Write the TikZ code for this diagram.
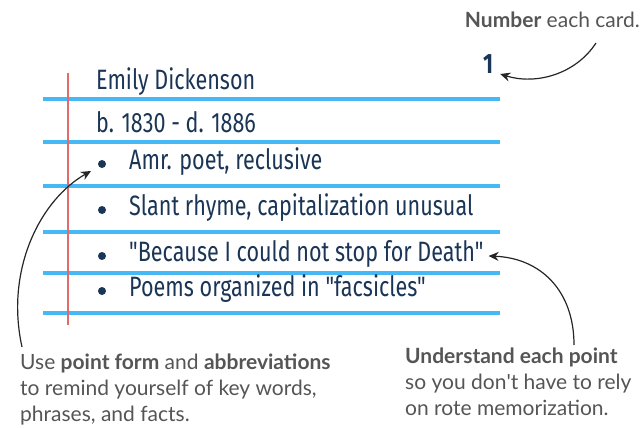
\documentclass[tikz,border=0pt]{standalone}
\usepackage{fontspec}
\setmainfont{Lato}
\newfontfamily\handfont[FakeStretch=0.77]{Fira Sans}
\usetikzlibrary{arrows.meta,positioning}

\definecolor{inkblue}{HTML}{1B3556}
\definecolor{captiongray}{HTML}{555555}
\definecolor{ruleblue}{HTML}{45B8F5}
\definecolor{marginred}{HTML}{E46A6A}

\tikzset{
  rule/.style={ruleblue, line width=4pt},
  hand/.style={font=\handfont\fontsize{28}{32}\selectfont, text=inkblue, anchor=west, inner sep=0pt},
  dot/.style={circle, fill=inkblue, inner sep=0pt, minimum size=8pt},
  caption/.style={font=\fontsize{21}{26}\selectfont, text=captiongray, align=left, inner sep=0pt},
  pointer/.style={-{Stealth[length=10pt,width=9pt]}, line width=1.2pt, black!85}
}

\begin{document}
\begin{tikzpicture}[x=1pt,y=-1pt]
\useasboundingbox (0,0) rectangle (642,428);

%ruled lines
\foreach \y in {99,142,186,232,273,313}
  \draw[rule] (43,\y) -- (500,\y);

%margin
\draw[marginred, line width=2.5pt] (68,73) -- (68,325);

%card text
\node[hand] (name) at (96,82) {Emily Dickenson};
\node[hand] (dates) at (96,122) {b. 1830 - d. 1886};

\node[dot] (b1) at (102,164) {};
\node[dot] (b2) at (102,210) {};
\node[dot] (b3) at (102,256) {};
\node[dot] (b4) at (102,291) {};
\node[hand] (pt1) at (129,162) {Amr. poet, reclusive};
\node[hand] (pt2) at (129,208) {Slant rhyme, capitalization unusual};
\node[hand] (pt3) at (129,254) {"Because I could not stop for Death"};
\node[hand] (pt4) at (129,289) {Poems organized in "facsicles"};

\node[hand, anchor=center, font=\handfont\bfseries\fontsize{28}{32}\selectfont] (cardno) at (488,64) {1};

%captions
\node[caption, anchor=north east] (numcap) at (640,12) {\textbf{Number} each card.};
\node[caption, anchor=north west] (formcap) at (20,354)
  {Use \textbf{point form} and \textbf{abbreviations}\\to remind yourself of key words,\\phrases, and facts.};
\node[caption, anchor=north west] (undercap) at (405,348)
  {\textbf{Understand each point}\\so you don\textquotesingle t have to rely\\on rote memorization.};

%arrows
\coordinate (numtail) at (596,43);
\coordinate (formtail) at (22,347);
\coordinate (undertail) at (574,345);

\draw[pointer] (numtail) .. controls (575,75) and (535,85) .. ([xshift=7pt,yshift=-10pt]cardno.east);
\draw[pointer] (formtail) .. controls (5,270) and (40,200) .. ([shift={(-8,4)}]b1.south west);
\draw[pointer] (undertail) .. controls (574,290) and (540,258) .. ([xshift=5pt,yshift=-2pt]pt3.east);
\end{tikzpicture}
\end{document}
